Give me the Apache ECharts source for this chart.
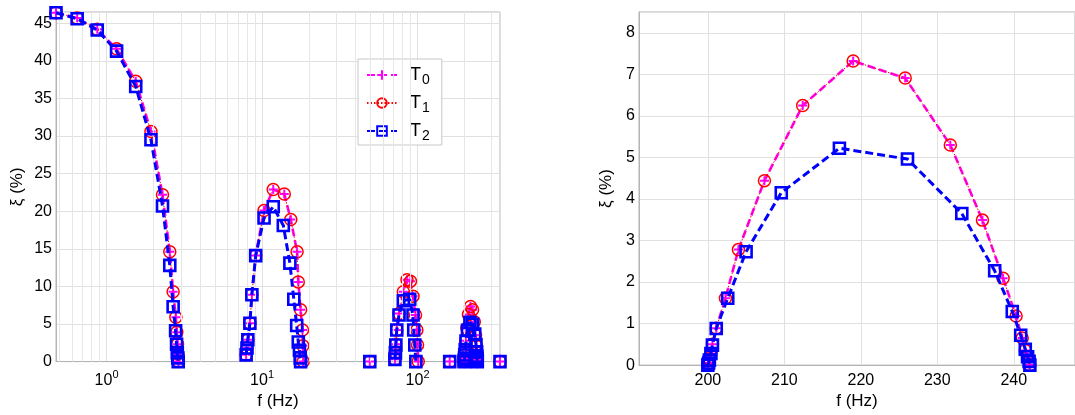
<!DOCTYPE html>
<html><head><meta charset="utf-8">
<script src="https://cdn.jsdelivr.net/npm/echarts@6/dist/echarts.min.js"></script>
<style>html,body{margin:0;padding:0;background:#fff}#c{width:1075px;height:415px}</style>
</head><body><div id="c"></div>
<script>
// ---------- data (frequency in Hz, damping xi in %) ----------
// mode cluster 1
const c1F_T0 = [0.473, 0.647, 0.871, 1.16, 1.54, 1.93, 2.29, 2.55, 2.68, 2.79, 2.83, 2.86, 2.88, 2.9];
const c1V_T0 = [46.4, 45.7, 44.2, 41.6, 37.3, 30.6, 22.2, 14.6, 9.3, 5.9, 3.9, 2.3, 1.0, 0];
const c1V_T1 = [46.4, 45.7, 44.2, 41.6, 37.3, 30.6, 22.2, 14.6, 9.3, 5.9, 3.9, 2.3, 1.0, 0];
const c1F_T2 = [0.473, 0.647, 0.871, 1.16, 1.54, 1.93, 2.29, 2.55, 2.68, 2.78, 2.82, 2.85, 2.87, 2.89];
const c1V_T2 = [46.4, 45.6, 44.1, 41.3, 36.6, 29.5, 20.7, 12.8, 7.3, 4.1, 2.3, 1.2, 0.5, 0];
// mode cluster 2
const c2F_T0 = [7.9, 8.0, 8.1, 8.35, 8.6, 9.1, 10.3, 11.8, 13.9, 15.3, 16.8, 17.1, 17.7, 18.2, 18.3, 18.4];
const c2V_T0 = [0.9, 1.8, 2.9, 5.1, 8.9, 14.1, 20.1, 22.9, 22.3, 18.9, 14.6, 10.6, 6.9, 4.2, 2.1, 0];
const c2V_T1 = [0.9, 1.8, 2.9, 5.1, 8.9, 14.1, 20.1, 22.9, 22.3, 18.9, 14.6, 10.6, 6.9, 4.2, 2.1, 0];
const c2F_T2 = [7.9, 8.0, 8.1, 8.35, 8.6, 9.1, 10.3, 11.8, 13.7, 15.1, 16.0, 16.7, 17.1, 17.4, 17.6, 17.7];
const c2V_T2 = [0.9, 1.8, 2.9, 5.1, 8.9, 14.1, 19.1, 20.6, 18.1, 13.1, 8.3, 4.8, 2.6, 1.5, 0.5, 0];
// mode cluster 3
const c3F_T0 = [71.5, 72, 72.5, 73.5, 76, 81, 85.5, 90, 93.5, 97, 99, 100, 101];
const c3V_T0 = [0.3, 1.2, 2.3, 4.2, 6.4, 9.3, 10.9, 10.7, 8.7, 6.2, 4.2, 2.2, 0];
const c3V_T1 = [0.3, 1.2, 2.3, 4.2, 6.4, 9.3, 10.9, 10.7, 8.7, 6.2, 4.2, 2.2, 0];
const c3F_T2 = [71.5, 72, 72.5, 73.5, 76, 81, 89, 93.5, 94.5, 96, 97.5];
const c3V_T2 = [0.3, 1.2, 2.2, 4.2, 6.2, 8.1, 8.3, 6.2, 4.2, 2.2, 0];
// mode cluster 4 (also shown on the right, linear axis)
const c4F_T0 = [200.0, 200.1, 200.2, 200.4, 200.6, 201.1, 202.3, 204.0, 207.4, 212.4, 219.0, 225.8, 231.7, 235.9, 238.6, 240.3, 241.1, 241.5, 241.8, 242.0, 242.1];
const c4V_T0 = [0.0, 0.05, 0.15, 0.28, 0.5, 0.89, 1.61, 2.78, 4.44, 6.25, 7.32, 6.91, 5.30, 3.49, 2.09, 1.18, 0.65, 0.35, 0.2, 0.08, 0];
const c4V_T1 = [0.0, 0.05, 0.15, 0.28, 0.5, 0.89, 1.61, 2.78, 4.44, 6.25, 7.32, 6.91, 5.30, 3.49, 2.09, 1.18, 0.65, 0.35, 0.2, 0.08, 0];
const c4F_T2 = [200.0, 200.1, 200.2, 200.4, 200.6, 201.1, 202.6, 205.0, 209.6, 217.2, 226.1, 233.2, 237.5, 239.8, 240.9, 241.5, 241.8, 242.0, 242.1];
const c4V_T2 = [0.0, 0.05, 0.12, 0.28, 0.48, 0.88, 1.61, 2.73, 4.15, 5.22, 4.96, 3.65, 2.27, 1.29, 0.72, 0.38, 0.2, 0.09, 0];
// isolated zero-damping points
const isoF = [49.3, 161, 339];
const isoV = [0, 0, 0];
// axis ticks
const leftMinorGrid = [0.5, 0.6, 0.7, 0.8, 0.9, 2, 3, 4, 5, 6, 7, 8, 9, 20, 30, 40, 50, 60, 70, 80, 90, 200, 300];
const seriesNames = ['T0', 'T1', 'T2'];

// ---------- helpers ----------
function pairs(f, v) { return f.map((x, i) => [x, v[i]]); }
function joinSegs(segs) {
  const out = [];
  segs.forEach((s, i) => { if (i) out.push(['-', '-']); out.push(...s); });
  return out;
}
function leftData(c1f, c1v, c2f, c2v, c3f, c3v, c4f, c4v) {
  return joinSegs([pairs(c1f, c1v), pairs(c2f, c2v), [[isoF[0], isoV[0]]], pairs(c3f, c3v),
    [[isoF[1], isoV[1]]], pairs(c4f, c4v), [[isoF[2], isoV[2]]]]);
}
const FONT = '"Liberation Sans", Arial, Helvetica, sans-serif';
const MAG = '#ff00ff', RED = '#ff0000', BLUE = '#0000ff';
const plusPath = 'path://M0,5L10,5M5,0L5,10';

function styleT0(gx, data) {
  return { name: 'T0', type: 'line', xAxisIndex: gx, yAxisIndex: gx, data, clip: false, z: 3,
    color: MAG, symbol: plusPath, symbolSize: 9, showAllSymbol: true,
    lineStyle: { color: MAG, width: 2.6, type: [8, 4] },
    itemStyle: { color: 'rgba(0,0,0,0)', borderColor: MAG, borderWidth: 2 } };
}
function styleT1(gx, data) {
  return { name: 'T1', type: 'line', xAxisIndex: gx, yAxisIndex: gx, data, clip: false, z: 4,
    color: RED, symbol: 'circle', symbolSize: 12, showAllSymbol: true,
    lineStyle: { color: RED, width: 1, type: [1.5, 2] },
    itemStyle: { color: 'rgba(0,0,0,0)', borderColor: RED, borderWidth: 1.5 } };
}
function styleT2(gx, data) {
  return { name: 'T2', type: 'line', xAxisIndex: gx, yAxisIndex: gx, data, clip: false, z: 5,
    color: BLUE, symbol: 'rect', symbolSize: 11, showAllSymbol: true,
    lineStyle: { color: BLUE, width: 3, type: [8, 4] },
    itemStyle: { color: 'rgba(0,0,0,0)', borderColor: BLUE, borderWidth: 2.6 } };
}

const chart = echarts.init(document.getElementById('c'), null, { renderer: 'canvas' });
const axisCommon = {
  axisLine: { show: true, lineStyle: { color: '#b4b4b4', width: 1 } },
  axisTick: { show: false },
  splitLine: { show: true, lineStyle: { color: '#e0e0e0', width: 1 } },
  nameTextStyle: { fontSize: 17, color: '#000', fontFamily: FONT }
};
const option = {
  animation: false,
  backgroundColor: '#fff',
  textStyle: { fontFamily: FONT },
  grid: [
    { left: 56, top: 12, width: 444, height: 355, show: true, borderColor: '#b4b4b4', borderWidth: 1, backgroundColor: '#fff' },
    { left: 639, top: 12, width: 436, height: 355, show: true, borderColor: '#b4b4b4', borderWidth: 1, backgroundColor: '#fff' }
  ],
  legend: {
    data: seriesNames, orient: 'vertical', left: 358, top: 59,
    itemWidth: 30, itemHeight: 12, itemGap: 4,
    backgroundColor: '#fff', borderColor: '#c8c8c8', borderWidth: 1, padding: [4, 12, 2, 8],
    formatter: n => '{t|T}{s|' + n.slice(1) + '}',
    textStyle: { color: '#000', rich: {
      t: { fontSize: 18, color: '#000', fontFamily: FONT, lineHeight: 18, padding: [0, 0, 0, 8] },
      s: { fontSize: 14, color: '#000', fontFamily: FONT, lineHeight: 18, padding: [10, 0, 0, 1] }
    } }
  },
  xAxis: [
    Object.assign({}, axisCommon, {
      type: 'log', logBase: 10, gridIndex: 0, min: 0.473, max: 339,
      name: 'f (Hz)', nameLocation: 'middle', nameGap: 27,
      axisLabel: { showMinLabel: false, showMaxLabel: false, margin: 8, color: '#000',
        formatter: v => '{b|10}{e|' + Math.round(Math.log10(v)) + '}',
        rich: { b: { fontSize: 16, fontFamily: FONT, color: '#000' },
                e: { fontSize: 11, fontFamily: FONT, color: '#000', padding: [0, 0, 10, 0] } } }
    }),
    Object.assign({}, axisCommon, {
      type: 'value', gridIndex: 1, min: 191, max: 248, splitNumber: 6,
      name: 'f (Hz)', nameLocation: 'middle', nameGap: 24,
      axisLabel: { showMinLabel: false, showMaxLabel: false, margin: 7, fontSize: 16, color: '#000', fontFamily: FONT }
    })
  ],
  yAxis: [
    Object.assign({}, axisCommon, {
      type: 'value', gridIndex: 0, min: 0, max: 46.5, interval: 5,
      name: 'ξ (%)', nameLocation: 'middle', nameGap: 30,
      axisLabel: { showMaxLabel: false, margin: 4, fontSize: 16, color: '#000', fontFamily: FONT }
    }),
    Object.assign({}, axisCommon, {
      type: 'value', gridIndex: 1, min: 0, max: 8.5, interval: 1,
      name: 'ξ (%)', nameLocation: 'middle', nameGap: 24,
      axisLabel: { showMaxLabel: false, margin: 4, fontSize: 16, color: '#000', fontFamily: FONT }
    })
  ],
  series: [
    { name: 'minor', type: 'line', xAxisIndex: 0, yAxisIndex: 0, data: [], z: 1, silent: true,
      markLine: { silent: true, symbol: ['none', 'none'], label: { show: false }, animation: false,
        lineStyle: { color: '#e6e6e6', width: 1, type: 'solid' },
        emphasis: { disabled: true },
        data: leftMinorGrid.map(v => ({ xAxis: v })) } },
    styleT0(0, leftData(c1F_T0, c1V_T0, c2F_T0, c2V_T0, c3F_T0, c3V_T0, c4F_T0, c4V_T0)),
    styleT1(0, leftData(c1F_T0, c1V_T1, c2F_T0, c2V_T1, c3F_T0, c3V_T1, c4F_T0, c4V_T1)),
    styleT2(0, leftData(c1F_T2, c1V_T2, c2F_T2, c2V_T2, c3F_T2, c3V_T2, c4F_T2, c4V_T2)),
    styleT0(1, pairs(c4F_T0, c4V_T0)),
    styleT1(1, pairs(c4F_T0, c4V_T1)),
    styleT2(1, pairs(c4F_T2, c4V_T2))
  ]
};
chart.setOption(option);
</script></body></html>
